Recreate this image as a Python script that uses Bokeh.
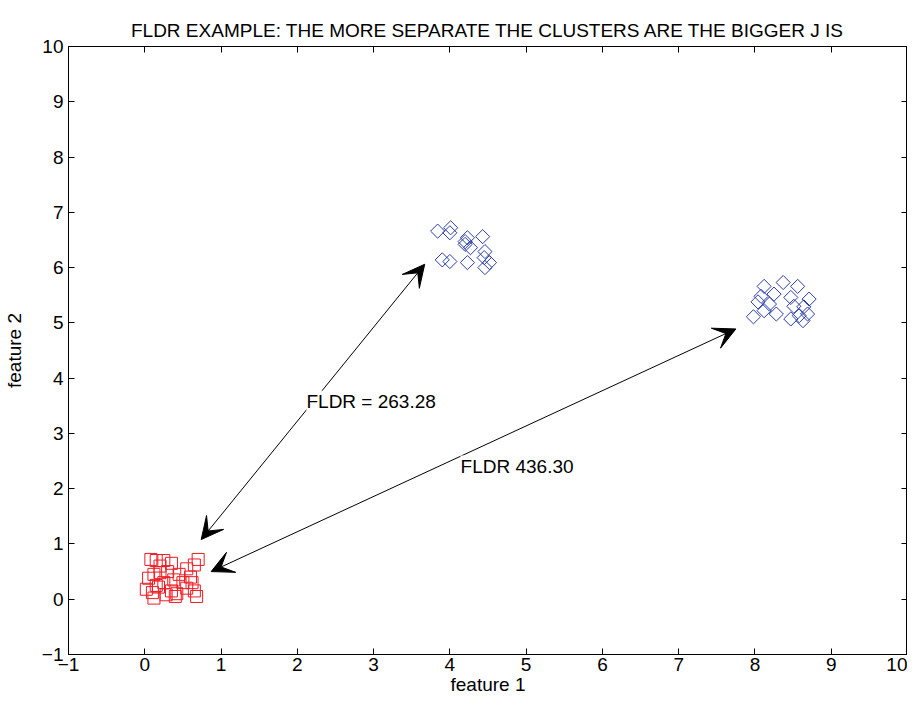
from bokeh.plotting import figure
from bokeh.models import (Range1d, FixedTicker, LinearAxis, Arrow, VeeHead, Label)
from bokeh.embed import file_html
from bokeh.resources import INLINE
import math

# --- data ---
red_x = [0.08, 0.15, 0.25, 0.35, 0.55, 0.70, 0.65, 0.05, 0.12, 0.20, 0.30, 0.45, 0.60, 0.02, 0.10,
         0.18, 0.25, 0.35, 0.42, 0.55, 0.65, 0.68, 0.12, 0.40, 0.28, 0.50, 0.20, 0.38, 0.15, 0.62]
red_y = [0.72, 0.70, 0.70, 0.65, 0.55, 0.72, 0.62, 0.38, 0.45, 0.48, 0.50, 0.45, 0.40, 0.18, 0.12,
         0.22, 0.30, 0.15, 0.10, 0.20, 0.15, 0.05, 0.02, 0.05, 0.08, 0.30, 0.60, 0.35, 0.25, 0.30]

blue1_x = [3.84, 4.01, 4.00, 4.23, 4.43, 4.20, 4.27, 4.46, 3.90, 4.00, 4.23, 4.45, 4.52, 4.46, 4.20]
blue1_y = [6.66, 6.72, 6.63, 6.54, 6.56, 6.42, 6.36, 6.29, 6.14, 6.11, 6.09, 6.18, 6.09, 6.00, 6.47]

blue2_x = [8.12, 8.37, 8.56, 8.08, 8.25, 8.47, 8.71, 8.04, 8.19, 8.51, 8.64, 7.98, 8.12, 8.28, 8.47, 8.58, 8.69, 8.63]
blue2_y = [5.66, 5.73, 5.66, 5.48, 5.52, 5.46, 5.43, 5.38, 5.34, 5.30, 5.29, 5.11, 5.22, 5.16, 5.07, 5.13, 5.16, 5.04]

ticks = list(range(-1, 11))

arrow1_start = (3.67, 6.06)
arrow1_end = (0.74, 1.08)
arrow2_start = (7.75, 4.89)
arrow2_end = (0.87, 0.50)
label1 = ("FLDR = 263.28", 2.12, 3.58)
label2 = ("FLDR 436.30", 4.14, 2.41)

FONT = "Liberation Sans"
FS = "19px"

p = figure(width=907, height=697, output_backend="svg", toolbar_location=None,
           x_range=Range1d(-1, 10), y_range=Range1d(-1, 10),
           min_border_left=62, min_border_right=0, min_border_top=46, min_border_bottom=0,
           title="FLDR EXAMPLE: THE MORE SEPARATE THE CLUSTERS ARE THE BIGGER J IS")
p.title.align = "center"
p.title.text_font = FONT
p.title.text_font_style = "normal"
p.title.text_font_size = FS
p.title.text_color = "black"
p.title.standoff = 12
p.grid.visible = False
p.outline_line_color = "black"
p.background_fill_color = "white"

for ax in (p.xaxis[0], p.yaxis[0]):
    ax.ticker = FixedTicker(ticks=ticks)
    ax.major_tick_in = 6
    ax.major_tick_out = 0
    ax.minor_tick_line_color = None
    ax.major_label_text_font = FONT
    ax.major_label_text_font_size = FS
    ax.major_label_text_color = "black"
    ax.axis_label_text_font = FONT
    ax.axis_label_text_font_size = FS
    ax.axis_label_text_font_style = "normal"
    ax.axis_label_text_color = "black"
    ax.axis_line_color = "black"
    ax.major_tick_line_color = "black"
p.xaxis[0].axis_label = "feature 1"
p.yaxis[0].axis_label = "feature 2"
p.xaxis[0].major_label_standoff = 3
p.xaxis[0].axis_label_standoff = 0
p.yaxis[0].major_label_standoff = 5
p.yaxis[0].axis_label_standoff = 14

top = LinearAxis(ticker=FixedTicker(ticks=ticks), major_tick_in=6, major_tick_out=0,
                 minor_tick_line_color=None, major_label_text_color=None,
                 major_label_text_font_size="0px", major_label_standoff=0)
right = LinearAxis(ticker=FixedTicker(ticks=ticks), major_tick_in=6, major_tick_out=0,
                   minor_tick_line_color=None, major_label_text_color=None,
                   major_label_text_font_size="0px", major_label_standoff=0)
p.add_layout(top, "above")
p.add_layout(right, "right")

p.scatter(red_x, red_y, marker="square", size=12, fill_color=None, line_color="#ee1c24", line_width=1)
p.scatter(blue1_x, blue1_y, marker="square", size=10, angle=math.pi / 4, fill_color=None,
          line_color="#2a3caa", line_width=1)
p.scatter(blue2_x, blue2_y, marker="square", size=10, angle=math.pi / 4, fill_color=None,
          line_color="#2a3caa", line_width=1)

for s, e in ((arrow1_start, arrow1_end), (arrow2_start, arrow2_end)):
    p.add_layout(Arrow(x_start=s[0], y_start=s[1], x_end=e[0], y_end=e[1], line_width=1,
                       start=VeeHead(size=22, fill_color="black", line_color="black"),
                       end=VeeHead(size=22, fill_color="black", line_color="black")))

for t, x, y in (label1, label2):
    p.add_layout(Label(x=x, y=y, text=t, text_font=FONT, text_font_size="19px",
                       text_color="black", text_align="left", text_baseline="middle",
                       background_fill_color="white"))

open("out.html", "w").write(file_html(p, INLINE))
